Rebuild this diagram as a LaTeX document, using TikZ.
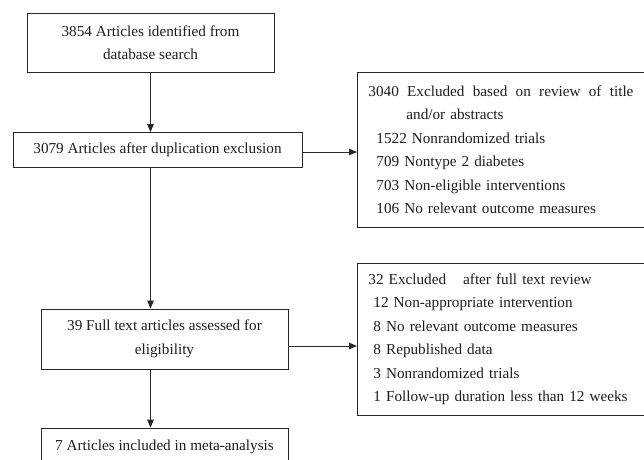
\documentclass[tikz,border=0pt]{standalone}
\usepackage{fontspec}
\setmainfont{Liberation Serif}
\usetikzlibrary{arrows.meta}
\definecolor{txt}{HTML}{1E1E1E}
\tikzset{
  box/.style={draw=black!85, line width=0.9pt, rectangle, inner sep=0pt, text=txt,
    font=\fontsize{15.2}{23.5}\selectfont},
  conn/.style={draw=black!85, line width=0.9pt, -{Triangle[length=8pt,width=6.5pt]}}
}
\begin{document}
\begin{tikzpicture}[x=1pt,y=-1pt]
\clip (0,0) rectangle (644,459);
\fill[white] (0,0) rectangle (644,459);
\node[box, minimum width=247, minimum height=59, align=center] (b1) at (150.5,42.5)
  {3854 Articles identified from\\database search};
\node[box, minimum width=289, minimum height=35] (b2) at (157.5,150)
  {3079 Articles after duplication exclusion};
\node[box, anchor=north west, text width=320, inner xsep=11, minimum height=155, align=left] (b3) at (357,72)
  {\hbox to 265pt{3040\hfill Excluded\hfill based\hfill on\hfill review\hfill of\hfill title}\\
   \hspace*{38pt}and/or abstracts\\
   \hspace*{8pt}1522 Nonrandomized trials\\
   \hspace*{8pt}709 Nontype 2 diabetes\\
   \hspace*{8pt}703 Non-eligible interventions\\
   \hspace*{8pt}106 No relevant outcome measures};
\node[box, minimum width=247, minimum height=60, align=center] (b4) at (164.5,339)
  {39 Full text articles assessed for\\eligibility};
\node[box, anchor=north west, text width=320, inner xsep=11, minimum height=152, align=left] (b5) at (357,263)
  {32 Excluded\hspace{12pt} after full text review\\
   \hspace*{5pt}12 Non-appropriate intervention\\
   \hspace*{5pt}8 No relevant outcome measures\\
   \hspace*{5pt}8 Republished data\\
   \hspace*{5pt}3 Nonrandomized trials\\
   \hspace*{5pt}1 Follow-up duration less than 12 weeks};
\node[box, minimum width=247, minimum height=38] (b6) at (164.5,447)
  {7 Articles included in meta-analysis};
\draw[conn] (b1.south) -- (b1.south |- b2.north);
\draw[conn] ([yshift=-2pt]b2.east) -- ([yshift=-2pt]b2.east -| b3.west);
\draw[conn] (b1.south |- b2.south) -- (b1.south |- b4.north);
\draw[conn] ([yshift=-7pt]b4.east) -- ([yshift=-7pt]b4.east -| b5.west);
\draw[conn] (b1.south |- b4.south) -- (b1.south |- b6.north);
\end{tikzpicture}
\end{document}
